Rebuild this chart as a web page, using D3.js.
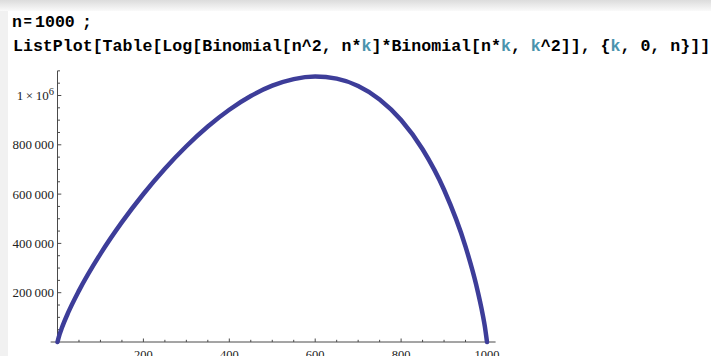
<!DOCTYPE html>
<meta charset="utf-8">
<html>
<head>
    <title>ListPlot</title>
    <script src="https://d3js.org/d3.v7.min.js"></script>
    <style>
        body { margin: 0; background: #fff; }
        svg { display: block; }
    </style>
</head>
<body>
    <svg id="chart"></svg>
    <script>
        // values (k, Log[...])
        var kValues = [0, 5, 10, 25, 50, 100, 150, 200, 250, 300, 350, 400, 450, 500,
                       550, 600, 650, 700, 750, 800, 850, 900, 950, 975, 990, 995, 1000];
        var logValues = [0, 31600, 56600, 119800, 208400, 357600, 486100, 600500, 702900,
                         794100, 874100, 942200, 997800, 1039700, 1066600, 1076800, 1068300,
                         1038500, 984100, 900700, 782000, 617700, 387100, 230900, 111400, 62800, 0];

        var xMajor = [200, 400, 600, 800, 1000];
        var yMajor = [200000, 400000, 600000, 800000, 1000000];
        var yLabels = ["200\u2009000", "400\u2009000", "600\u2009000", "800\u2009000", "1e6"];

        var codeLine2 = [
            ["ListPlot[Table[Log[Binomial[n^2, n*", "#000"], ["k", "#4a94ae"],
            ["]*Binomial[n*", "#000"], ["k", "#4a94ae"], [", ", "#000"], ["k", "#4a94ae"],
            ["^2]], {", "#000"], ["k", "#4a94ae"], [", 0, n}]]", "#000"]
        ];

        var w = 711, h = 356;
        var svg = d3.select("#chart").attr("width", w).attr("height", h);

        // notebook chrome: top gradient band and left strip
        var defs = svg.append("defs");
        var grad = defs.append("linearGradient").attr("id", "topband")
            .attr("x1", 0).attr("y1", 0).attr("x2", 0).attr("y2", 1);
        grad.append("stop").attr("offset", "0%").attr("stop-color", "#dcdcdc");
        grad.append("stop").attr("offset", "100%").attr("stop-color", "#fafafa");
        svg.append("rect").attr("x", 0).attr("y", 0).attr("width", w).attr("height", 11)
            .attr("fill", "url(#topband)");
        svg.append("rect").attr("x", 0).attr("y", 11).attr("width", 8).attr("height", h - 11)
            .attr("fill", "#f1f1f1");

        var monoFont = "'Liberation Mono', 'Courier New', monospace";

        // input cell, line 1: Mathematica typesets "n = 1000;" with tight spacing
        var l1 = svg.append("text")
            .attr("y", 27)
            .attr("font-family", monoFont)
            .attr("font-weight", "bold")
            .attr("font-size", "16.6px")
            .attr("fill", "#000");
        l1.append("tspan").attr("x", 12).text("n");
        l1.append("tspan").attr("x", 23.5).attr("font-size", "14px").attr("dy", -1).text("=");
        l1.append("tspan").attr("x", 35).attr("dy", 1).text("1000");
        l1.append("tspan").attr("x", 82).text(";");

        // line 2
        var t = svg.append("text")
            .attr("x", 13).attr("y", 51)
            .attr("font-family", monoFont)
            .attr("font-weight", "bold")
            .attr("font-size", "16.6px")
            .attr("xml:space", "preserve")
            .style("white-space", "pre");
        codeLine2.forEach(function (p) {
            t.append("tspan").attr("fill", p[1]).text(p[0]);
        });

        // scales
        var x = d3.scaleLinear().domain([0, 1000]).range([57.5, 487]);
        var y = d3.scaleLinear().domain([0, 1000000]).range([342, 95.5]);

        var axisColor = "#4a4a4a";
        var labelFont = "'Liberation Serif', 'Times New Roman', serif";
        var g = svg.append("g");

        // axes lines
        g.append("line").attr("x1", x(-16)).attr("x2", x(1020))
            .attr("y1", y(0)).attr("y2", y(0))
            .attr("stroke", axisColor).attr("stroke-width", 1);
        g.append("line").attr("x1", x(0)).attr("x2", x(0))
            .attr("y1", y(-8000)).attr("y2", y(1100000))
            .attr("stroke", axisColor).attr("stroke-width", 1);

        // x ticks (inward, upward)
        var xMinor = d3.range(50, 1001, 50);
        g.selectAll(".xt").data(xMinor).enter().append("line")
            .attr("x1", function (d) { return x(d); })
            .attr("x2", function (d) { return x(d); })
            .attr("y1", y(0))
            .attr("y2", function (d) { return y(0) - (xMajor.indexOf(d) >= 0 ? 3.5 : 2.2); })
            .attr("stroke", axisColor);
        g.selectAll(".xl").data(xMajor).enter().append("text")
            .attr("x", function (d) { return x(d); })
            .attr("y", 359)
            .attr("text-anchor", "middle")
            .attr("font-family", labelFont)
            .attr("font-size", "12.5px")
            .attr("fill", "#222")
            .text(function (d) { return d; });

        // y ticks (inward, to the right)
        var yMinor = d3.range(50000, 1100001, 50000);
        g.selectAll(".yt").data(yMinor).enter().append("line")
            .attr("x1", x(0))
            .attr("x2", function (d) { return x(0) + (d % 200000 === 0 ? 3.8 : 2.5); })
            .attr("y1", function (d) { return y(d); })
            .attr("y2", function (d) { return y(d); })
            .attr("stroke", axisColor);

        yMajor.forEach(function (v, i) {
            var lbl = g.append("text")
                .attr("x", 54).attr("y", y(v) + 4.5)
                .attr("text-anchor", "end")
                .attr("font-family", labelFont)
                .attr("font-size", "13px")
                .attr("fill", "#222");
            if (yLabels[i] === "1e6") {
                lbl.append("tspan").text("1\u2009\u00d7\u200910");
                lbl.append("tspan").attr("dy", -5.5).attr("font-size", "10.5px").text("6");
            } else {
                lbl.text(yLabels[i]);
            }
        });

        // data curve
        var pts = kValues.map(function (k, i) { return [k, logValues[i]]; });
        var line = d3.line()
            .x(function (d) { return x(d[0]); })
            .y(function (d) { return y(d[1]); })
            .curve(d3.curveMonotoneX);

        g.append("path").datum(pts)
            .attr("d", line)
            .attr("fill", "none")
            .attr("stroke", "#3d3d99")
            .attr("stroke-width", 4.5)
            .attr("stroke-linecap", "round")
            .attr("stroke-linejoin", "round");
    </script>
</body>
</html>
